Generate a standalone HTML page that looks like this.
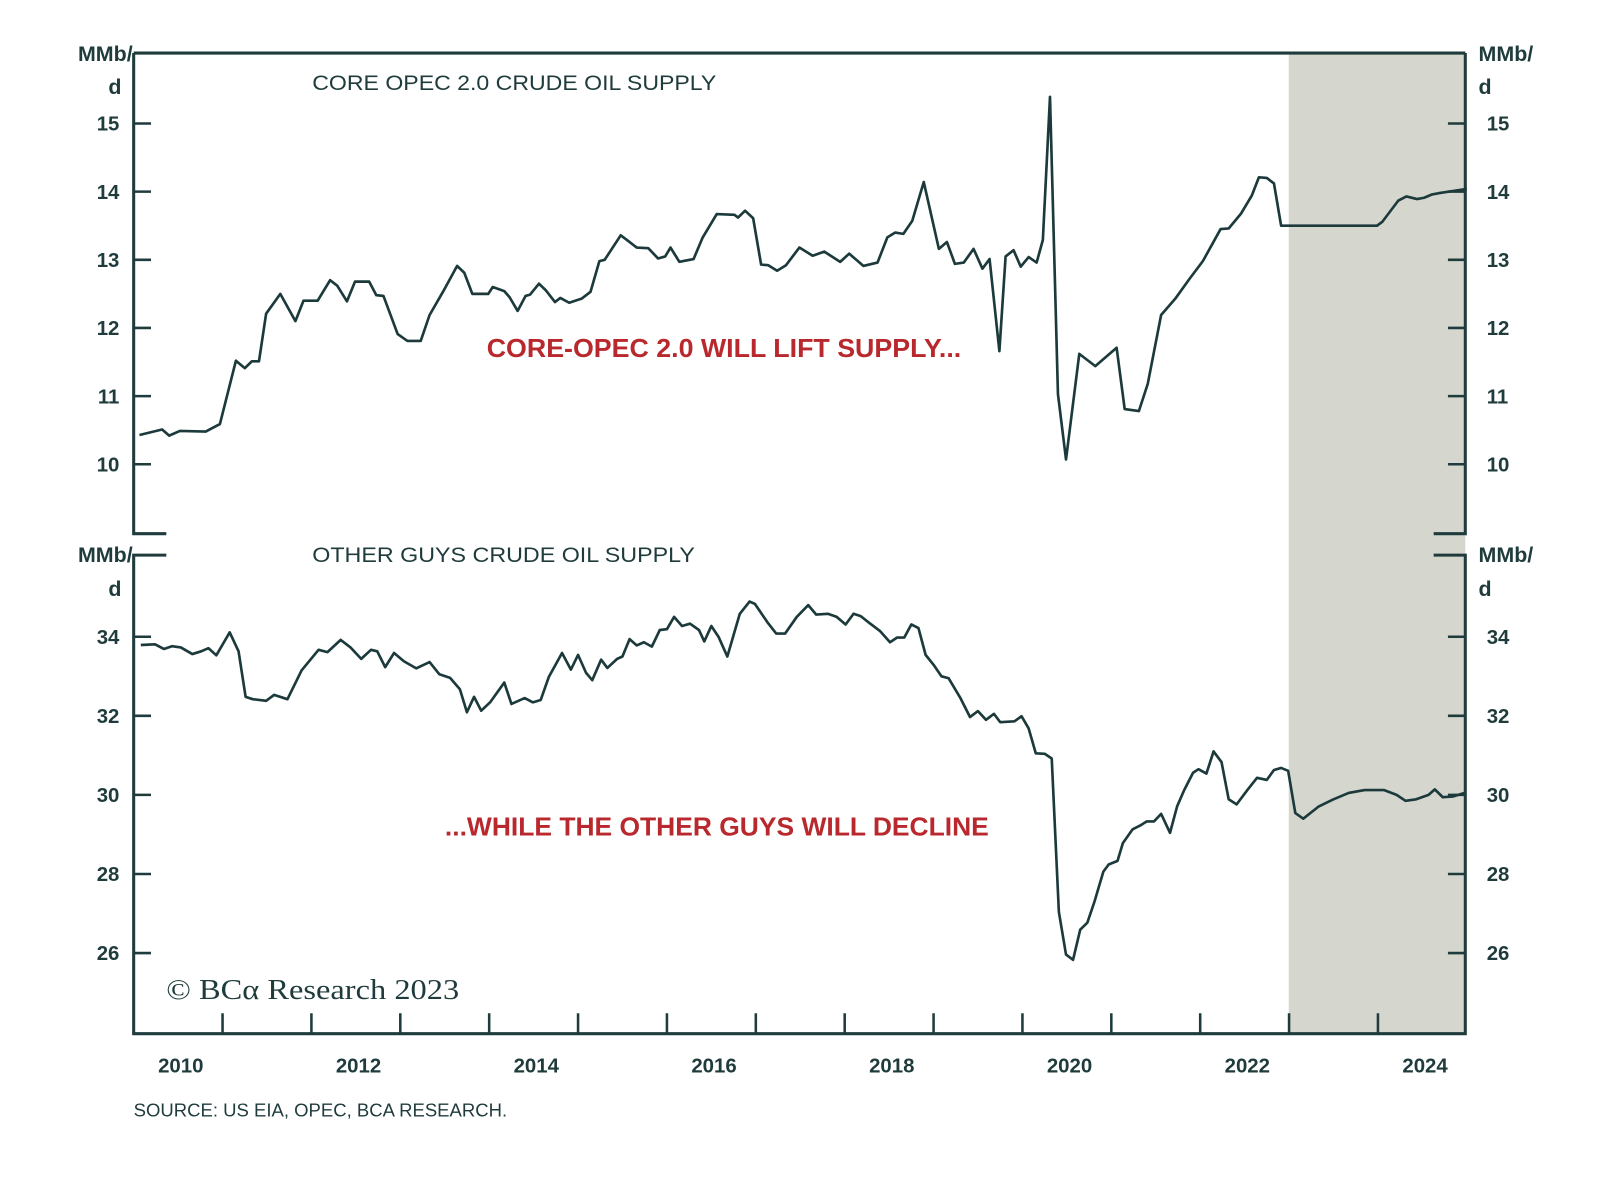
<!DOCTYPE html>
<html><head><meta charset="utf-8"><style>
html,body{margin:0;padding:0;background:#fff;}
svg{display:block;}
text{font-family:"Liberation Sans",sans-serif;font-weight:bold;fill:#1f3b3c;}
</style></head><body>
<svg id="chart" width="1600" height="1177" viewBox="0 0 1600 1177" xmlns="http://www.w3.org/2000/svg">
<g id="root" transform="scale(1.0204)">
<rect x="1263" y="52" width="173" height="961" fill="#d5d7cf"/>
<g id="frame" stroke="#1f3b3c" stroke-width="3" fill="none">
<path d="M131,52 H1436 M131,52 V523 H163 M1436,52 V523 H1405"/>
<path d="M163,544 H131 V1013 H1436 V544 H1405"/>
</g>
<g id="ticks" stroke="#1f3b3c" stroke-width="2.5"></g>
<g id="labels"></g>
<text x="130" y="60" text-anchor="end" font-size="21">MMb/</text>
<text x="119" y="92" text-anchor="end" font-size="21">d</text>
<text x="1449" y="60" font-size="21">MMb/</text>
<text x="1449" y="92" font-size="21">d</text>
<text x="130" y="551" text-anchor="end" font-size="21">MMb/</text>
<text x="119" y="584" text-anchor="end" font-size="21">d</text>
<text x="1449" y="551" font-size="21">MMb/</text>
<text x="1449" y="584" font-size="21">d</text>
<text x="306" y="88" font-size="21" textLength="396" lengthAdjust="spacingAndGlyphs" style="font-weight:normal">CORE OPEC 2.0 CRUDE OIL SUPPLY</text>
<text x="306" y="551" font-size="21" textLength="375" lengthAdjust="spacingAndGlyphs" style="font-weight:normal">OTHER GUYS CRUDE OIL SUPPLY</text>
<text x="477" y="350" font-size="25" textLength="465" lengthAdjust="spacingAndGlyphs" style="fill:#b8282d;">CORE-OPEC 2.0 WILL LIFT SUPPLY...</text>
<text x="436" y="819" font-size="25" textLength="533" lengthAdjust="spacingAndGlyphs" style="fill:#b8282d;">...WHILE THE OTHER GUYS WILL DECLINE</text>
<text x="163" y="979" font-size="28" textLength="287" lengthAdjust="spacingAndGlyphs" style="font-family:'Liberation Serif',serif;font-weight:normal">© BCα Research 2023</text>
<text x="131" y="1094" font-size="18" textLength="366" lengthAdjust="spacingAndGlyphs" style="font-weight:normal">SOURCE: US EIA, OPEC, BCA RESEARCH.</text>
<g id="series"></g>
</g>
</svg>
<script>
const topT=[0.065,0.32,0.40,0.52,0.81,0.97,1.15,1.25,1.33,1.41,1.49,1.65,1.82,1.91,2.07,2.21,2.29,2.40,2.49,2.65,2.73,2.81,2.97,3.08,3.23,3.33,3.48,3.64,3.72,3.81,3.99,4.04,4.17,4.23,4.32,4.41,4.46,4.56,4.64,4.74,4.80,4.90,5.04,5.14,5.24,5.30,5.48,5.56,5.66,5.79,5.90,5.98,6.04,6.14,6.30,6.40,6.56,6.76,6.80,6.88,6.97,7.06,7.14,7.24,7.34,7.49,7.64,7.77,7.95,8.05,8.21,8.37,8.48,8.57,8.66,8.76,8.89,9.06,9.15,9.24,9.34,9.45,9.55,9.63,9.74,9.81,9.90,9.98,10.07,10.16,10.23,10.31,10.40,10.49,10.64,10.82,11.06,11.15,11.31,11.41,11.56,11.72,11.88,12.03,12.23,12.32,12.46,12.58,12.66,12.75,12.83,12.91,13.99,14.05,14.23,14.32,14.44,14.52,14.61,14.70,15.0];
const topV=[10.43,10.51,10.42,10.49,10.48,10.59,11.52,11.41,11.51,11.51,12.21,12.50,12.10,12.40,12.40,12.70,12.62,12.39,12.68,12.68,12.48,12.47,11.91,11.81,11.81,12.19,12.53,12.91,12.81,12.50,12.50,12.60,12.54,12.45,12.25,12.47,12.49,12.65,12.55,12.38,12.44,12.37,12.43,12.53,12.98,13.00,13.36,13.28,13.18,13.17,13.02,13.05,13.18,12.97,13.01,13.32,13.67,13.66,13.62,13.72,13.61,12.93,12.92,12.84,12.92,13.18,13.06,13.12,12.97,13.09,12.91,12.96,13.33,13.40,13.38,13.57,14.14,13.16,13.26,12.94,12.96,13.16,12.87,13.01,11.66,13.05,13.14,12.90,13.04,12.96,13.29,15.39,11.03,10.07,11.62,11.44,11.71,10.81,10.78,11.18,12.19,12.43,12.72,12.98,13.45,13.46,13.68,13.94,14.21,14.20,14.12,13.50,13.50,13.56,13.87,13.93,13.89,13.91,13.96,13.98,14.04];
const botT=[0.08,0.24,0.34,0.43,0.53,0.66,0.76,0.84,0.93,1.08,1.18,1.26,1.34,1.49,1.58,1.73,1.89,2.08,2.18,2.33,2.44,2.56,2.67,2.74,2.83,2.93,3.04,3.18,3.33,3.44,3.56,3.67,3.75,3.83,3.91,4.01,4.17,4.25,4.40,4.49,4.58,4.67,4.82,4.92,5.00,5.09,5.16,5.26,5.33,5.44,5.50,5.58,5.66,5.74,5.83,5.92,6.00,6.08,6.17,6.26,6.36,6.42,6.50,6.58,6.68,6.82,6.93,6.99,7.13,7.23,7.33,7.46,7.59,7.68,7.81,7.91,8.01,8.10,8.18,8.27,8.40,8.51,8.59,8.67,8.75,8.83,8.91,9.00,9.09,9.17,9.30,9.41,9.50,9.59,9.68,9.75,9.91,9.99,10.07,10.15,10.25,10.33,10.41,10.49,10.57,10.65,10.73,10.81,10.91,10.97,11.07,11.13,11.24,11.32,11.40,11.48,11.56,11.66,11.74,11.82,11.92,11.98,12.07,12.15,12.24,12.32,12.41,12.53,12.64,12.75,12.83,12.91,12.99,13.07,13.16,13.33,13.49,13.67,13.85,14.07,14.21,14.31,14.43,14.57,14.64,14.73,14.85,14.97];
const botV=[33.79,33.81,33.69,33.76,33.73,33.56,33.63,33.71,33.53,34.11,33.63,32.48,32.42,32.38,32.53,32.42,33.15,33.67,33.61,33.92,33.73,33.44,33.67,33.63,33.23,33.59,33.38,33.20,33.36,33.05,32.96,32.67,32.09,32.48,32.13,32.34,32.84,32.30,32.45,32.34,32.40,32.98,33.59,33.17,33.54,33.09,32.90,33.42,33.21,33.44,33.50,33.94,33.78,33.86,33.75,34.17,34.19,34.50,34.27,34.33,34.17,33.88,34.27,34.00,33.50,34.58,34.89,34.83,34.37,34.08,34.08,34.50,34.80,34.56,34.58,34.50,34.31,34.58,34.52,34.36,34.14,33.86,33.98,33.98,34.31,34.22,33.54,33.29,33.00,32.95,32.46,31.97,32.12,31.90,32.05,31.84,31.86,31.99,31.68,31.05,31.04,30.92,27.04,25.96,25.83,26.59,26.77,27.30,28.06,28.24,28.33,28.78,29.13,29.22,29.33,29.33,29.52,29.04,29.71,30.12,30.56,30.65,30.54,31.10,30.83,29.89,29.76,30.12,30.43,30.38,30.63,30.68,30.61,29.54,29.40,29.70,29.88,30.05,30.12,30.12,30.00,29.85,29.89,30.00,30.14,29.94,29.96,30.05];
const topTicks=[10,11,12,13,14,15];
const botTicks=[26,28,30,32,34];
const yearLabels=[2010,2012,2014,2016,2018,2020,2022,2024];
const yearTicks=[1,2,3,4,5,6,7,8,9,10,11,12,13,14];

const NS="http://www.w3.org/2000/svg";
function X(t){return 131+t*87.1;}
function Ytop(v){return 455-(v-10)*66.8;}
function Ybot(v){return 934-(v-26)*38.75;}
function mk(tag,attrs,parent){const e=document.createElementNS(NS,tag);for(const k in attrs)e.setAttribute(k,attrs[k]);parent.appendChild(e);return e;}
const tk=document.getElementById('ticks'),lb=document.getElementById('labels'),sr=document.getElementById('series');
topTicks.forEach(v=>{
  const y=Ytop(v);
  const l=mk('path',{d:`M131,${y}H148M1419,${y}H1436`},tk);
  
  
  const a=mk('text',{x:117,y:y+7,'text-anchor':'end','font-size':20},lb);a.textContent=v;
  
  
  const b=mk('text',{x:1457,y:y+7,'font-size':20},lb);b.textContent=v;
  
  
});
botTicks.forEach(v=>{
  const y=Ybot(v);
  const l=mk('path',{d:`M131,${y}H148M1419,${y}H1436`},tk);
  
  
  const a=mk('text',{x:117,y:y+7,'text-anchor':'end','font-size':20},lb);a.textContent=v;
  
  
  const b=mk('text',{x:1457,y:y+7,'font-size':20},lb);b.textContent=v;
  
  
});
yearTicks.forEach(t=>{
  const l=mk('path',{d:`M${X(t)},993V1013`},tk);
  
  
});
yearLabels.forEach(yr=>{
  const a=mk('text',{x:X(yr-2010+0.53),y:1051,'text-anchor':'middle','font-size':20},lb);a.textContent=yr;
  
  
});
function line(T,V,Y,name){
  const d=T.map((t,i)=>(i?'L':'M')+X(t).toFixed(1)+','+Y(V[i]).toFixed(1)).join('');
  const p=mk('path',{d:d,fill:'none',stroke:'#1c3a3b','stroke-width':2.6,'stroke-linejoin':'round'},sr);
  
  
}
line(topT,topV,Ytop,'core-opec-supply-line');
line(botT,botV,Ybot,'other-guys-supply-line');
</script>
</body></html>
